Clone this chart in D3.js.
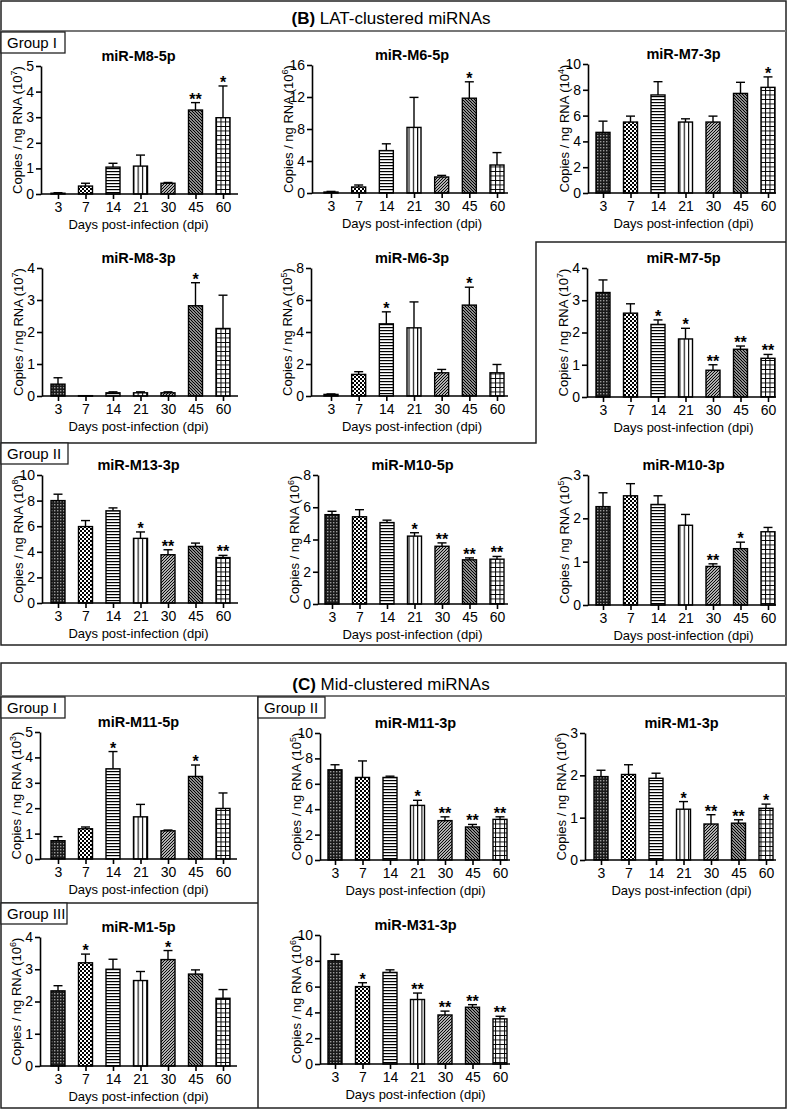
<!DOCTYPE html>
<html>
<head>
<meta charset="utf-8">
<script src="https://cdn.jsdelivr.net/npm/d3@7"></script>
<style>
  body { margin: 0; background: #fff; }
  svg text { font-family: "Liberation Sans", Arial, sans-serif; fill: #000; }
</style>
</head>
<body>
<div id="fig"></div>
<script>
// days post-infection (x categories)
var days = ["3", "7", "14", "21", "30", "45", "60"];

// mean copies / ng RNA, SEM, significance marks per miRNA
var m8_5p = [0.03, 0.31, 1.05, 1.09, 0.42, 3.28, 2.98];
var m8_5pErr = [0.02, 0.11, 0.15, 0.43, 0.03, 0.29, 1.24];
var m8_5pSig = ["", "", "", "", "", "**", "*"];

var m6_5p = [0.12, 0.75, 5.3, 8.2, 2.0, 11.85, 3.5];
var m6_5pErr = [0.08, 0.25, 0.85, 3.75, 0.2, 2.05, 1.55];
var m6_5pSig = ["", "", "", "", "", "*", ""];

var m7_3p = [4.7, 5.5, 7.6, 5.5, 5.5, 7.72, 8.19];
var m7_3pErr = [0.87, 0.46, 1.03, 0.25, 0.46, 0.86, 0.81];
var m7_3pSig = ["", "", "", "", "", "", "*"];

var m8_3p = [0.37, 0.01, 0.1, 0.1, 0.1, 2.82, 2.11];
var m8_3pErr = [0.2, 0, 0.03, 0.03, 0.03, 0.72, 1.04];
var m8_3pSig = ["", "", "", "", "", "*", ""];

var m6_3p = [0.1, 1.35, 4.51, 4.26, 1.45, 5.68, 1.45];
var m6_3pErr = [0.03, 0.17, 0.75, 1.62, 0.21, 1.12, 0.52];
var m6_3pSig = ["", "", "*", "", "", "*", ""];

var m7_5p = [3.24, 2.6, 2.25, 1.8, 0.83, 1.48, 1.2];
var m7_5pErr = [0.39, 0.29, 0.14, 0.33, 0.17, 0.1, 0.12];
var m7_5pSig = ["", "", "*", "*", "**", "**", "**"];

var m13_3p = [8.0, 5.97, 7.2, 5.05, 3.77, 4.42, 3.55];
var m13_3pErr = [0.5, 0.47, 0.23, 0.5, 0.39, 0.26, 0.17];
var m13_3pSig = ["", "", "", "*", "**", "", "**"];

var m10_5p = [5.54, 5.41, 5.05, 4.21, 3.58, 2.74, 2.78];
var m10_5pErr = [0.21, 0.44, 0.15, 0.21, 0.21, 0.12, 0.17];
var m10_5pSig = ["", "", "", "*", "**", "**", "**"];

var m10_3p = [2.27, 2.52, 2.32, 1.84, 0.89, 1.3, 1.69];
var m10_3pErr = [0.32, 0.28, 0.2, 0.25, 0.06, 0.15, 0.1];
var m10_3pSig = ["", "", "", "", "**", "*", ""];

var m11_5p = [0.72, 1.19, 3.55, 1.66, 1.11, 3.25, 1.99];
var m11_5pErr = [0.16, 0.07, 0.68, 0.49, 0.03, 0.45, 0.61];
var m11_5pSig = ["", "", "*", "", "", "*", ""];

var m1_5p = [2.33, 3.2, 3.0, 2.65, 3.3, 2.85, 2.1];
var m1_5pErr = [0.16, 0.27, 0.31, 0.28, 0.28, 0.13, 0.27];
var m1_5pSig = ["", "*", "", "", "*", "", ""];

var m11_3p = [7.1, 6.5, 6.5, 4.3, 3.1, 2.6, 3.2];
var m11_3pErr = [0.4, 1.3, 0.1, 0.4, 0.3, 0.2, 0.2];
var m11_3pSig = ["", "", "", "*", "**", "**", "**"];

var m1_3p = [1.97, 2.02, 1.93, 1.2, 0.85, 0.87, 1.22];
var m1_3pErr = [0.15, 0.23, 0.12, 0.18, 0.22, 0.08, 0.1];
var m1_3pSig = ["", "", "", "*", "**", "**", "*"];

var m31_3p = [8.0, 6.0, 7.1, 5.0, 3.8, 4.4, 3.5];
var m31_3pErr = [0.5, 0.3, 0.2, 0.5, 0.3, 0.2, 0.2];
var m31_3pSig = ["", "*", "", "**", "**", "**", "**"];

// y tick values
var ticks0to3 = [0, 1, 2, 3];
var ticks0to4 = [0, 1, 2, 3, 4];
var ticks0to5 = [0, 1, 2, 3, 4, 5];
var ticks0to8 = [0, 2, 4, 6, 8];
var ticks0to10 = [0, 2, 4, 6, 8, 10];
var ticks0to16 = [0, 4, 8, 12, 16];

var svg = d3.select("#fig").append("svg")
    .attr("width", 787)
    .attr("height", 1110);

// bar fill patterns, one per day
var defs = svg.append("defs");
function pat(id, w, h) {
    return defs.append("pattern").attr("id", id)
        .attr("patternUnits", "userSpaceOnUse")
        .attr("width", w).attr("height", h);
}
var p;
p = pat("p3", 3, 3);
p.append("rect").attr("width", 3).attr("height", 3).attr("fill", "#1a1a1a");
p.append("rect").attr("width", 1.4).attr("height", 1.4).attr("fill", "#9a9a9a");
p = pat("p7", 4, 4);
p.append("rect").attr("width", 4).attr("height", 4).attr("fill", "#000");
p.append("rect").attr("width", 2).attr("height", 2).attr("fill", "#fff");
p.append("rect").attr("x", 2).attr("y", 2).attr("width", 2).attr("height", 2).attr("fill", "#fff");
p = pat("p14", 4, 3);
p.append("rect").attr("width", 4).attr("height", 3).attr("fill", "#fff");
p.append("rect").attr("width", 4).attr("height", 1.2).attr("fill", "#000");
p = pat("p21", 4.3, 4);
p.append("rect").attr("width", 4.3).attr("height", 4).attr("fill", "#fff");
p.append("rect").attr("width", 1.1).attr("height", 4).attr("fill", "#000");
p = pat("p30", 3, 3);
p.append("rect").attr("width", 3).attr("height", 3).attr("fill", "#fff");
p.append("path").attr("d", "M-1,1 L1,-1 M0,3 L3,0 M2,4 L4,2").attr("stroke", "#000").attr("stroke-width", 1.2);
p = pat("p45", 3, 3);
p.append("rect").attr("width", 3).attr("height", 3).attr("fill", "#fff");
p.append("path").attr("d", "M-1,2 L1,4 M0,0 L3,3 M2,-1 L4,1").attr("stroke", "#000").attr("stroke-width", 1.3);
p = pat("p60", 4.5, 4.5);
p.append("rect").attr("width", 4.5).attr("height", 4.5).attr("fill", "#fff");
p.append("path").attr("d", "M0,0.5 H4.5 M0.5,0 V4.5").attr("stroke", "#000").attr("stroke-width", 1);

var patternIds = ["p3", "p7", "p14", "p21", "p30", "p45", "p60"];

// frames
var frame = svg.append("g").attr("fill", "none").attr("stroke", "#222").attr("stroke-width", 1.5);
frame.append("rect").attr("x", 1).attr("y", 1).attr("width", 785).attr("height", 644);
frame.append("line").attr("x1", 1).attr("x2", 786).attr("y1", 31).attr("y2", 31).attr("stroke", "#777").attr("stroke-width", 2);
frame.append("path").attr("d", "M1,443 H536 V242 H786");
frame.append("rect").attr("x", 1).attr("y", 663).attr("width", 785).attr("height", 445);
frame.append("line").attr("x1", 1).attr("x2", 786).attr("y1", 696).attr("y2", 696).attr("stroke", "#777").attr("stroke-width", 2);
frame.append("line").attr("x1", 258).attr("x2", 258).attr("y1", 696).attr("y2", 1108);
frame.append("line").attr("x1", 1).attr("x2", 258).attr("y1", 903).attr("y2", 903);

function sectionTitle(letter, rest, y) {
    var t = svg.append("text").attr("x", 391).attr("y", y)
        .attr("text-anchor", "middle").style("font-size", "17px");
    t.append("tspan").style("font-weight", "bold").text(letter);
    t.append("tspan").text(rest);
}
sectionTitle("(B)", " LAT-clustered miRNAs", 24);
sectionTitle("(C)", " Mid-clustered miRNAs", 690);

function groupLabel(txt, x, y, w) {
    svg.append("rect").attr("x", x).attr("y", y).attr("width", w).attr("height", 21)
        .attr("fill", "#fff").attr("stroke", "#222").attr("stroke-width", 1.3);
    svg.append("text").attr("x", x + 6).attr("y", y + 16).style("font-size", "15px").text(txt);
}
groupLabel("Group I", 1, 32, 64);
groupLabel("Group II", 1, 443, 67);
groupLabel("Group I", 1, 697, 64);
groupLabel("Group II", 258, 697, 67);
groupLabel("Group III", 1, 903, 66);

// panel layout: y-axis x, first/last bar centre, x-axis end, y of top tick and of zero
var panels = [
    { title: "miR-M8-5p", v: m8_5p, e: m8_5pErr, s: m8_5pSig, ticks: ticks0to5, exp: "7", x0: 41, c0: 58, c1: 223, xe: 238, yT: 66, yB: 194 },
    { title: "miR-M6-5p", v: m6_5p, e: m6_5pErr, s: m6_5pSig, ticks: ticks0to16, exp: "6", x0: 312, c0: 331, c1: 497, xe: 508, yT: 65, yB: 193 },
    { title: "miR-M7-3p", v: m7_3p, e: m7_3pErr, s: m7_3pSig, ticks: ticks0to10, exp: "4", x0: 588, c0: 603, c1: 768, xe: 776, yT: 64, yB: 193 },
    { title: "miR-M8-3p", v: m8_3p, e: m8_3pErr, s: m8_3pSig, ticks: ticks0to4, exp: "7", x0: 42, c0: 58, c1: 223, xe: 238, yT: 268, yB: 396 },
    { title: "miR-M6-3p", v: m6_3p, e: m6_3pErr, s: m6_3pSig, ticks: ticks0to8, exp: "5", x0: 311, c0: 331, c1: 497, xe: 508, yT: 268, yB: 396 },
    { title: "miR-M7-5p", v: m7_5p, e: m7_5pErr, s: m7_5pSig, ticks: ticks0to4, exp: "7", x0: 587, c0: 603, c1: 768, xe: 776, yT: 268, yB: 397 },
    { title: "miR-M13-3p", v: m13_3p, e: m13_3pErr, s: m13_3pSig, ticks: ticks0to10, exp: "8", x0: 42, c0: 58, c1: 223, xe: 238, yT: 475, yB: 603 },
    { title: "miR-M10-5p", v: m10_5p, e: m10_5pErr, s: m10_5pSig, ticks: ticks0to8, exp: "6", x0: 318, c0: 332, c1: 497, xe: 508, yT: 475, yB: 604 },
    { title: "miR-M10-3p", v: m10_3p, e: m10_3pErr, s: m10_3pSig, ticks: ticks0to3, exp: "5", x0: 588, c0: 603, c1: 768, xe: 776, yT: 475, yB: 605 },
    { title: "miR-M11-5p", v: m11_5p, e: m11_5pErr, s: m11_5pSig, ticks: ticks0to5, exp: "3", x0: 40, c0: 58, c1: 223, xe: 237, yT: 732, yB: 859 },
    { title: "miR-M1-5p", v: m1_5p, e: m1_5pErr, s: m1_5pSig, ticks: ticks0to4, exp: "6", x0: 40, c0: 58, c1: 223, xe: 237, yT: 937, yB: 1066 },
    { title: "miR-M11-3p", v: m11_3p, e: m11_3pErr, s: m11_3pSig, ticks: ticks0to10, exp: "5", x0: 320, c0: 335, c1: 500, xe: 510, yT: 733, yB: 860 },
    { title: "miR-M1-3p", v: m1_3p, e: m1_3pErr, s: m1_3pSig, ticks: ticks0to3, exp: "6", x0: 585, c0: 601, c1: 766, xe: 776, yT: 733, yB: 860 },
    { title: "miR-M31-3p", v: m31_3p, e: m31_3pErr, s: m31_3pSig, ticks: ticks0to10, exp: "6", x0: 320, c0: 335, c1: 500, xe: 510, yT: 935, yB: 1064 }
];

var barW = 14;

panels.forEach(function(pn) {
    var g = svg.append("g");
    var x = d3.scalePoint().domain(days).range([pn.c0, pn.c1]);
    var y = d3.scaleLinear().domain([0, pn.ticks[pn.ticks.length - 1]]).range([pn.yB, pn.yT]);
    var rows = days.map(function(d, i) { return { day: d, v: pn.v[i], e: pn.e[i], s: pn.s[i], pid: patternIds[i] }; });

    // bars
    g.selectAll(".bar").data(rows).enter().append("rect")
        .attr("x", function(d) { return x(d.day) - barW / 2; })
        .attr("y", function(d) { return y(d.v); })
        .attr("width", barW)
        .attr("height", function(d) { return Math.max(pn.yB - y(d.v), 0.5); })
        .attr("fill", function(d) { return "url(#" + d.pid + ")"; })
        .attr("stroke", "#000")
        .attr("stroke-width", 1.4);

    // error bars (upper only)
    var eb = g.selectAll(".err").data(rows.filter(function(d) { return d.e > 0; })).enter().append("g")
        .attr("stroke", "#000").attr("stroke-width", 1.4);
    eb.append("line")
        .attr("x1", function(d) { return x(d.day); })
        .attr("x2", function(d) { return x(d.day); })
        .attr("y1", function(d) { return y(d.v); })
        .attr("y2", function(d) { return y(d.v + d.e); });
    eb.append("line")
        .attr("x1", function(d) { return x(d.day) - 4.5; })
        .attr("x2", function(d) { return x(d.day) + 4.5; })
        .attr("y1", function(d) { return y(d.v + d.e); })
        .attr("y2", function(d) { return y(d.v + d.e); });

    // significance stars
    g.selectAll(".sig").data(rows.filter(function(d) { return d.s; })).enter().append("text")
        .attr("x", function(d) { return x(d.day); })
        .attr("y", function(d) { return y(d.v + d.e) + 2; })
        .attr("text-anchor", "middle")
        .style("font-size", "16px")
        .style("font-weight", "bold")
        .text(function(d) { return d.s; });

    // axes
    var yAxis = g.append("g")
        .attr("transform", "translate(" + pn.x0 + ",0)")
        .call(d3.axisLeft(y).tickValues(pn.ticks).tickFormat(d3.format("d"))
            .tickSize(5).tickSizeOuter(0).tickPadding(2));
    var xAxis = g.append("g")
        .attr("transform", "translate(0," + pn.yB + ")")
        .call(d3.axisBottom(x).tickSize(5).tickPadding(3));
    xAxis.select(".domain").attr("d", "M" + pn.x0 + ",0H" + pn.xe);
    [yAxis, xAxis].forEach(function(a) {
        a.select(".domain").attr("stroke-width", 1.6);
        a.selectAll(".tick line").attr("stroke-width", 1.6);
        a.selectAll(".tick text").style("font-size", "14px").attr("fill", "#000");
    });

    var mid = (pn.c0 + pn.c1) / 2;
    g.append("text").attr("x", mid - 2).attr("y", pn.yT - 5)
        .attr("text-anchor", "middle")
        .style("font-size", "14.5px").style("font-weight", "bold")
        .text(pn.title);

    g.append("text").attr("x", mid - 2).attr("y", pn.yB + 35)
        .attr("text-anchor", "middle").style("font-size", "13px")
        .text("Days post-infection (dpi)");

    var yl = g.append("text")
        .attr("transform", "translate(" + (pn.x0 - 19) + "," + ((pn.yT + pn.yB) / 2) + ") rotate(-90)")
        .attr("text-anchor", "middle").style("font-size", "13px");
    yl.append("tspan").text("Copies / ng RNA (10");
    yl.append("tspan").attr("dy", -5).style("font-size", "9px").text(pn.exp);
    yl.append("tspan").attr("dy", 5).text(")");
});
</script>
</body>
</html>
